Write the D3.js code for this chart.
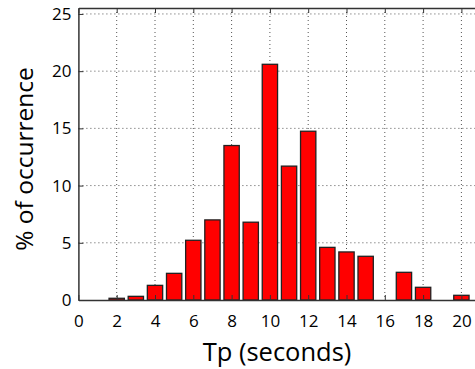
<!DOCTYPE html>
<html>
<head>
<meta charset="utf-8">
<script src="https://cdn.jsdelivr.net/npm/d3@7"></script>
<style>
body { margin: 0; background: #fff; }
svg { display: block; }
text { font-family: "Open Sans", sans-serif; fill: #000; }
</style>
</head>
<body>
<svg id="chart" width="475" height="369"></svg>
<script>
// Tp bins and their percentage of occurrence
var tpBins = [2, 3, 4, 5, 6, 7, 8, 9, 10, 11, 12, 13, 14, 15, 16, 17, 18, 19, 20];
var occurrence = [0.15, 0.32, 1.28, 2.33, 5.22, 7.0, 13.5, 6.8, 20.6, 11.7, 14.75, 4.6, 4.2, 3.82, 0, 2.42, 1.11, 0, 0.41];
var xTicks = [0, 2, 4, 6, 8, 10, 12, 14, 16, 18, 20];
var yTicks = [0, 5, 10, 15, 20, 25];

var margin = { left: 78.4, top: 8, bottom: 69 };
var svg = d3.select('#chart');
var height = 369 - margin.top - margin.bottom;

var x = d3.scaleLinear().domain([0, 21]).range([margin.left, margin.left + 21 * 19.15]);
var y = d3.scaleLinear().domain([0, 25.52]).range([margin.top + height, margin.top]);

var right = x(21), bottom = y(0);

// grid
svg.append('g').selectAll('line')
	.data(xTicks.slice(1)).enter()
	.append('line')
	.attr('x1', function(d) { return x(d) }).attr('x2', function(d) { return x(d) })
	.attr('y1', margin.top).attr('y2', bottom)
	.style('stroke', '#555').style('stroke-width', 1).style('stroke-dasharray', '1,3');

svg.append('g').selectAll('line')
	.data(yTicks.slice(1)).enter()
	.append('line')
	.attr('x1', margin.left).attr('x2', right)
	.attr('y1', function(d) { return y(d) }).attr('y2', function(d) { return y(d) })
	.style('stroke', '#555').style('stroke-width', 1).style('stroke-dasharray', '1,3');

// bars
var bw = 0.8;
svg.append('g').selectAll('rect')
	.data(tpBins).enter()
	.append('rect')
	.attr('x', function(d) { return x(d - bw / 2) })
	.attr('width', x(bw) - x(0))
	.attr('y', function(d, i) { return y(occurrence[i]) })
	.attr('height', function(d, i) { return bottom - y(occurrence[i]) })
	.style('fill', '#ff0000')
	.style('stroke', '#222')
	.style('stroke-width', 1.3);

// axes (ticks inward, box on top)
var xAxis = svg.append('g')
	.attr('transform', 'translate(0,' + bottom + ')')
	.call(d3.axisBottom(x).tickValues(xTicks).tickSizeInner(-5).tickSizeOuter(0).tickPadding(15));
var yAxis = svg.append('g')
	.attr('transform', 'translate(' + margin.left + ',0)')
	.call(d3.axisLeft(y).tickValues(yTicks).tickSizeInner(-5).tickSizeOuter(0).tickPadding(7));
var topAxis = svg.append('g')
	.attr('transform', 'translate(0,' + margin.top + ')')
	.call(d3.axisTop(x).tickValues(xTicks).tickSizeInner(-5).tickSizeOuter(0).tickFormat(''));

[xAxis, yAxis, topAxis].forEach(function(a) {
	a.select('.domain').style('stroke', '#333').style('stroke-width', 1.5);
	a.selectAll('.tick line').style('stroke', '#333');
	a.selectAll('text').style('font-size', '17px').style('font-family', '"Open Sans", sans-serif').style('fill', '#000');
});

// labels
svg.append('text')
	.attr('x', 277)
	.attr('y', 361)
	.attr('text-anchor', 'middle')
	.style('font-size', '25.5px')
	.text('Tp (seconds)');

svg.append('text')
	.attr('transform', 'translate(33,159) rotate(-90)')
	.attr('text-anchor', 'middle')
	.style('font-size', '24.5px')
	.text('% of occurrence');
</script>
</body>
</html>
